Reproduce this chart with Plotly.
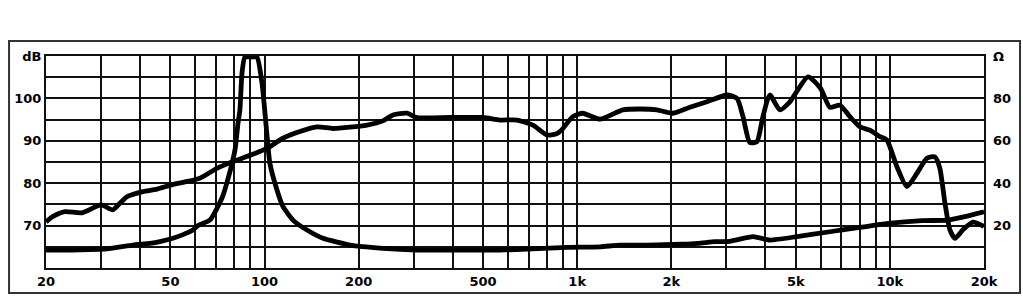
import plotly.graph_objects as go

# Frequency response (SPL, dB)
spl_freq = [20, 21, 23, 26, 30, 32.7, 34.5, 36.3, 40.8, 45.3, 50.4, 55.7, 62.2, 70.4, 79.3, 90,
            97.4, 101.8, 114.5, 129.8, 147, 165.5, 187.6, 212.6, 239.2, 257.5, 285.5, 307.2, 391.7,
            500, 566, 641.5, 721.5, 800, 855, 890, 968, 1042, 1183, 1400, 1587, 1799, 2024, 2293,
            2600, 3014, 3244, 3390, 3566, 3756, 3926, 4132, 4448, 4789, 5470, 6000, 6430, 6918,
            7447, 8018, 8630, 9290, 9775, 10530, 11337, 12200, 13130, 13930, 14450, 15000, 15560,
            16150, 17120, 18430, 20000]
spl_db = [70.9, 72.1, 73.3, 73.0, 74.9, 73.7, 75.3, 76.8, 78.0, 78.6, 79.6, 80.3, 81.2, 83.5, 85.1, 86.6,
          87.6, 88.2, 90.6, 92.2, 93.3, 92.9, 93.2, 93.7, 94.7, 96.1, 96.5, 95.5, 95.5,
          95.5, 94.9, 94.9, 93.7, 91.4, 91.6, 92.5, 95.7, 96.5, 95.1, 97.3, 97.5, 97.3, 96.5, 97.9,
          99.2, 100.8, 100.0, 95.7, 89.6, 89.8, 95.7, 100.8, 97.3, 99.2, 105.1, 102.4, 97.9, 98.4,
          95.7, 93.3, 92.5, 91.0, 90.2, 83.9, 79.2, 82.3, 85.9, 86.2, 83.5, 75.3, 69.0,
          67.0, 69.0, 70.8, 69.8]

# Impedance (Ohm)
imp_freq = [20, 24.4, 31.3, 37.9, 43, 46.3, 50.9, 54.4, 59, 61.3, 66.9, 73.1, 76.4, 80.5, 82.2, 83.4,
            84.7, 86.5, 90.5, 94.6, 98.2, 101.9, 104, 109.6, 114.6, 123.3, 136.7, 153.8, 187.6,
            239, 307, 392, 566, 721, 927, 1183, 1370, 1683, 2162, 2433, 2756, 3078, 3648, 4132,
            5044, 6430, 7920, 9860, 12660, 15340, 17380, 20000]
imp_ohm = [8.5, 8.5, 9.0, 10.8, 11.6, 12.4, 14.0, 15.5, 17.9, 20.0, 22.6, 33.0, 42.0, 56.0, 68.0, 74.5,
           92.0, 99.5, 99.5, 99.5, 87.0, 62.0, 49.4, 36.8, 28.9, 22.6, 17.9, 14.0, 10.8,
           9.3, 8.5, 8.5, 8.5, 9.0, 9.7, 10.0, 10.8, 10.8, 11.2, 11.6, 12.4, 12.6, 14.8, 13.2,
           14.8, 17.1, 19.0, 21.0, 22.3, 22.6, 24.2, 26.5]

# Axis ticks
x_grid = [20, 30, 40, 50, 60, 70, 80, 90, 100, 200, 300, 400, 500, 600, 700, 800, 900,
          1000, 2000, 3000, 4000, 5000, 6000, 7000, 8000, 9000, 10000, 20000]
x_labels = {20: "20", 50: "50", 100: "100", 200: "200", 500: "500", 1000: "1k", 2000: "2k",
            5000: "5k", 10000: "10k", 20000: "20k"}
db_grid = [60, 65, 70, 75, 80, 85, 90, 95, 100, 105, 110]
db_labels = {70: "70", 80: "80", 90: "90", 100: "100", 110: "dB"}
ohm_ticks = [20, 40, 60, 80, 100]
ohm_labels = ["20", "40", "60", "80", "Ω"]

tick_font = dict(family="DejaVu Sans", size=13, color="black", weight="bold")

fig = go.Figure()
fig.add_trace(go.Scatter(x=spl_freq, y=spl_db, mode="lines",
                         line=dict(color="black", width=4.8, shape="spline", smoothing=0.6),
                         showlegend=False))
fig.add_trace(go.Scatter(x=imp_freq, y=imp_ohm, mode="lines", yaxis="y2",
                         line=dict(color="black", width=4.8, shape="spline", smoothing=0.5),
                         showlegend=False))

fig.update_layout(
    width=1023, height=304,
    margin=dict(l=46, r=39, t=56, b=36),
    paper_bgcolor="white", plot_bgcolor="white",
    xaxis=dict(type="log", range=[1.30103, 4.30103],
               tickvals=x_grid, ticktext=[x_labels.get(v, "") for v in x_grid],
               showgrid=True, gridcolor="#111", gridwidth=1.8,
               showline=True, linecolor="#111", linewidth=2, mirror=True,
               ticks="", tickfont=tick_font, zeroline=False, tickangle=0),
    yaxis=dict(range=[60, 110], tickvals=db_grid,
               ticktext=[db_labels.get(v, "") for v in db_grid],
               showgrid=True, gridcolor="#111", gridwidth=1.8,
               showline=True, linecolor="#111", linewidth=2, mirror=True,
               ticks="", tickfont=tick_font, zeroline=False),
    yaxis2=dict(range=[0, 100], overlaying="y", side="right",
                tickvals=ohm_ticks, ticktext=ohm_labels, showgrid=False,
                ticks="", tickfont=tick_font, zeroline=False, showline=False,
                ticklabelstandoff=8),
    shapes=[dict(type="rect", xref="paper", yref="paper",
                 x0=-0.0394, x1=1.0384, y0=-0.118, y1=1.0708,
                 line=dict(color="#333", width=2), layer="below")],
)

fig.write_html("out.html")
